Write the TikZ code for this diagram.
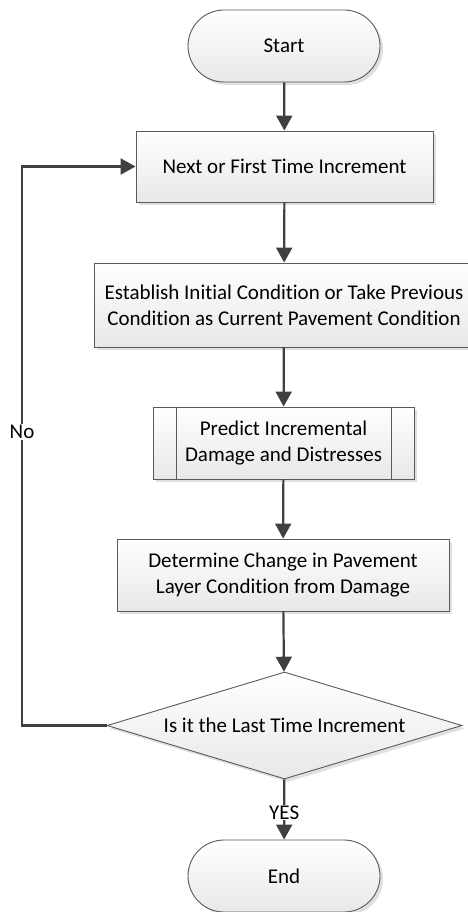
\documentclass[tikz,border=0pt]{standalone}
\usepackage{fontspec}
\setmainfont{Carlito}[Ligatures=NoCommon]
\usetikzlibrary{shapes.misc,shapes.geometric,arrows.meta,shadows}
\definecolor{lin}{HTML}{404040}
\definecolor{bord}{HTML}{5A5A5A}
\tikzset{
  base/.style={draw=bord, line width=0.9pt, top color=white, bottom color=black!9,
    drop shadow={shadow xshift=3pt, shadow yshift=-3pt, fill=black!12, opacity=1},
    align=center, font=\fontsize{21}{26}\selectfont, inner sep=0pt},
  term/.style={base, rounded rectangle, minimum width=192pt, minimum height=72pt},
  proc/.style={base, rectangle},
  conn/.style={draw=lin, line width=2.2pt, -{Triangle[length=15pt,width=16pt]}},
  lbl/.style={font=\fontsize{21}{24}\selectfont, fill=white, inner sep=1pt}
}
\begin{document}
\begin{tikzpicture}[x=1pt,y=-1pt]
\useasboundingbox (0,0) rectangle (468,912);
\begin{scope}
\clip (0,0) rectangle (468,912);
\node[term] (start) at (284,46) {Start};
\node[proc, minimum width=297pt, minimum height=71pt] (next) at (284.5,166.5) {Next or First Time Increment};
\node[proc, minimum width=380pt, minimum height=84pt] (est) at (284,305) {Establish Initial Condition or Take Previous\\Condition as Current Pavement Condition};
\node[proc, minimum width=261pt, minimum height=72pt] (pred) at (283.5,443) {Predict Incremental\\Damage and Distresses};
\draw[bord, line width=0.9pt] ([xshift=24pt]pred.north west) -- ([xshift=24pt]pred.south west)
  ([xshift=-23pt]pred.north east) -- ([xshift=-23pt]pred.south east);
\node[proc, minimum width=332pt, minimum height=72pt] (det) at (283,575) {Determine Change in Pavement\\Layer Condition from Damage};
\node[base, diamond, minimum width=355pt, minimum height=107pt, inner sep=0pt] (dec) at (284.5,725.5) {};
\node[font=\fontsize{21}{26}\selectfont] at (dec.center) {Is it the Last Time Increment};
\node[term] (end) at (284,876) {End};
\coordinate (lc) at (22,725.5);
\coordinate (tc) at (22,166.5);
\draw[conn] (start) -- (next);
\draw[conn] (next) -- (est);
\draw[conn] (est) -- (pred);
\draw[conn] (pred) -- (det);
\draw[conn] (det) -- (dec);
\draw[conn] (dec) -- node[lbl, pos=0.55] {YES} (end);
\draw[conn] (dec.west) -- (lc) -- node[lbl, pos=0.525] {No} (tc) -- (next.west);
\end{scope}
\end{tikzpicture}
\end{document}
